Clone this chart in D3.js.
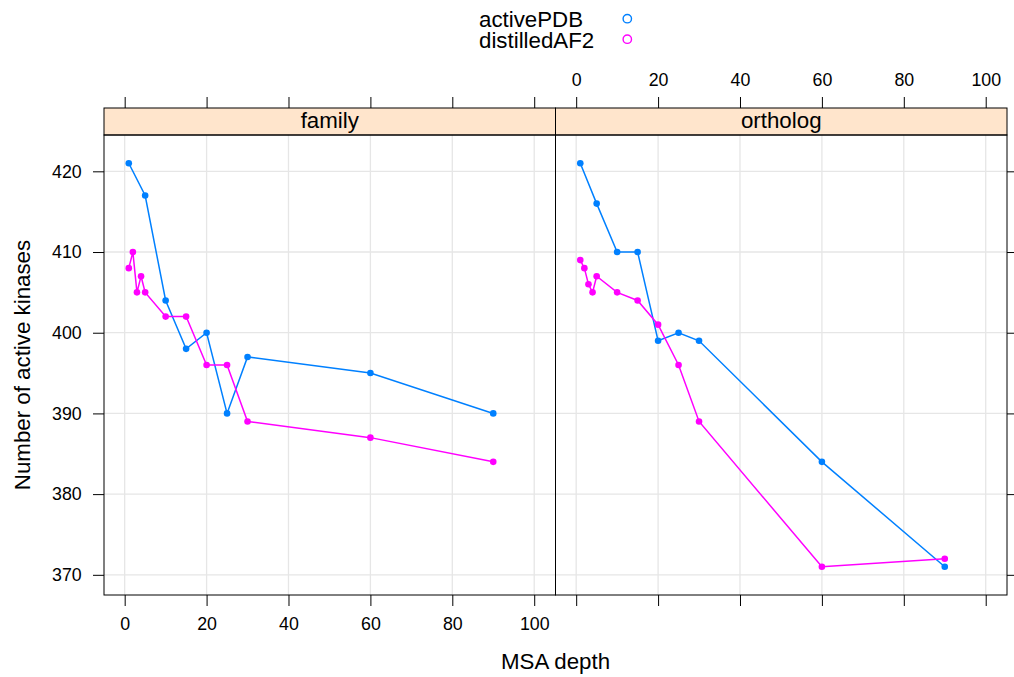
<!DOCTYPE html>
<html>
<head>
<meta charset="utf-8">
<script src="https://cdn.jsdelivr.net/npm/d3@7"></script>
<style>
  html, body { margin: 0; padding: 0; background: #fff; }
  svg { display: block; font-family: "Liberation Sans", Arial, Helvetica, sans-serif; }
</style>
</head>
<body>
<svg id="chart" width="1014" height="677"></svg>
<script>
// MSA depth values at which each method was evaluated
const pdbDepth = [1, 5, 10, 15, 20, 25, 30, 60, 90];
const af2Depth = [1, 2, 3, 4, 5, 10, 15, 20, 25, 30, 60, 90];

// Number of active kinases, "family" MSA
const familyActivePDB = [421, 417, 404, 398, 400, 390, 397, 395, 390];
const familyDistilledAF2 = [408, 410, 405, 407, 405, 402, 402, 396, 396, 389, 387, 384];

// Number of active kinases, "ortholog" MSA
const orthologActivePDB = [421, 416, 410, 410, 399, 400, 399, 384, 371];
const orthologDistilledAF2 = [409, 408, 406, 405, 407, 405, 404, 401, 396, 389, 371, 372];

const panelNames = ["family", "ortholog"];
const seriesNames = ["activePDB", "distilledAF2"];
const seriesColors = ["#0080ff", "#ff00ff"];
const xTicks = [0, 20, 40, 60, 80, 100];
const yTicks = [370, 380, 390, 400, 410, 420];

const panelData = [
  [ {name: seriesNames[0], x: pdbDepth, y: familyActivePDB},
    {name: seriesNames[1], x: af2Depth, y: familyDistilledAF2} ],
  [ {name: seriesNames[0], x: pdbDepth, y: orthologActivePDB},
    {name: seriesNames[1], x: af2Depth, y: orthologDistilledAF2} ]
];

const svg = d3.select("#chart");
const tickFont = 17.8, labelFont = 22.3;

// layout of the two side-by-side panels
const panelLeft = 104, panelRight = 1007;
const panelW = (panelRight - panelLeft) / 2;
const stripTop = 108, stripBottom = 135, panelBottom = 595;

const y = d3.scaleLinear().domain([367.5, 424.5]).range([panelBottom, stripBottom]);
const color = d3.scaleOrdinal().domain(seriesNames).range(seriesColors);

panelNames.forEach((pname, i) => {
  const x0 = panelLeft + i * panelW;
  const x = d3.scaleLinear().domain([-5.05, 105.2]).range([x0, x0 + panelW]);
  const g = svg.append("g");

  // reference grid
  g.append("g").selectAll("line.vg").data(xTicks).join("line")
    .attr("x1", d => x(d)).attr("x2", d => x(d))
    .attr("y1", stripBottom).attr("y2", panelBottom)
    .attr("stroke", "#e6e6e6").attr("stroke-width", 1.3);
  g.append("g").selectAll("line.hg").data(yTicks).join("line")
    .attr("x1", x0).attr("x2", x0 + panelW)
    .attr("y1", d => y(d)).attr("y2", d => y(d))
    .attr("stroke", "#e6e6e6").attr("stroke-width", 1.3);

  // series lines and points
  const line = d3.line().x(d => x(d[0])).y(d => y(d[1]));
  panelData[i].forEach(s => {
    const pts = s.x.map((v, k) => [v, s.y[k]]);
    g.append("path").datum(pts).attr("d", line)
      .attr("fill", "none").attr("stroke", color(s.name)).attr("stroke-width", 1.5);
    g.append("g").selectAll("circle").data(pts).join("circle")
      .attr("cx", d => x(d[0])).attr("cy", d => y(d[1])).attr("r", 3.3)
      .attr("fill", color(s.name));
  });

  // strip
  g.append("rect").attr("x", x0).attr("y", stripTop)
    .attr("width", panelW).attr("height", stripBottom - stripTop)
    .attr("fill", "#ffe5cc").attr("stroke", "#000").attr("stroke-width", 1);
  g.append("text").attr("x", x0 + panelW / 2).attr("y", 128.3)
    .attr("text-anchor", "middle").attr("font-size", labelFont).text(pname);

  // panel border
  g.append("rect").attr("x", x0).attr("y", stripBottom)
    .attr("width", panelW).attr("height", panelBottom - stripBottom)
    .attr("fill", "none").attr("stroke", "#000").attr("stroke-width", 1);

  // x axes: labels alternate between bottom (first panel) and top (second panel)
  const bottom = d3.axisBottom(x).tickValues(xTicks).tickSize(11).tickSizeOuter(0).tickPadding(11.4);
  const top = d3.axisTop(x).tickValues(xTicks).tickSize(11).tickSizeOuter(0).tickPadding(11);
  if (i === 0) top.tickFormat(() => ""); else bottom.tickFormat(() => "");
  g.append("g").attr("class", "axis").attr("transform", `translate(0,${panelBottom})`).call(bottom);
  g.append("g").attr("class", "axis").attr("transform", `translate(0,${stripTop})`).call(top);
});

// y axes: labelled on the left, ticks only on the right
const left = d3.axisLeft(y).tickValues(yTicks).tickSize(11).tickSizeOuter(0).tickPadding(11.3);
const right = d3.axisRight(y).tickValues(yTicks).tickSize(11).tickSizeOuter(0).tickFormat(() => "");
svg.append("g").attr("class", "axis").attr("transform", `translate(${panelLeft},0)`).call(left);
svg.append("g").attr("class", "axis").attr("transform", `translate(${panelRight},0)`).call(right);

svg.selectAll(".axis .domain").remove();
svg.selectAll(".axis line").attr("stroke", "#000").attr("stroke-width", 1);
svg.selectAll(".axis text").attr("font-size", tickFont).attr("fill", "#000")
  .attr("font-family", "\"Liberation Sans\", Arial, Helvetica, sans-serif");

// divider between panels
svg.append("line").attr("x1", panelLeft + panelW).attr("x2", panelLeft + panelW)
  .attr("y1", stripTop).attr("y2", panelBottom).attr("stroke", "#000").attr("stroke-width", 1);

// axis titles
svg.append("text").attr("x", (panelLeft + panelRight) / 2).attr("y", 669.3)
  .attr("text-anchor", "middle").attr("font-size", labelFont).text("MSA depth");
svg.append("text").attr("transform", `translate(30,${(stripBottom + panelBottom) / 2}) rotate(-90)`)
  .attr("text-anchor", "middle").attr("font-size", labelFont).text("Number of active kinases");

// key
const key = svg.append("g");
const keyRows = [27, 47.5];
seriesNames.forEach((name, k) => {
  key.append("text").attr("x", 479).attr("y", keyRows[k])
    .attr("font-size", labelFont).text(name);
  key.append("circle").attr("cx", 627.3).attr("cy", keyRows[k] - 8.3).attr("r", 4.2)
    .attr("fill", "none").attr("stroke", color(name)).attr("stroke-width", 1.4);
});
</script>
</body>
</html>
